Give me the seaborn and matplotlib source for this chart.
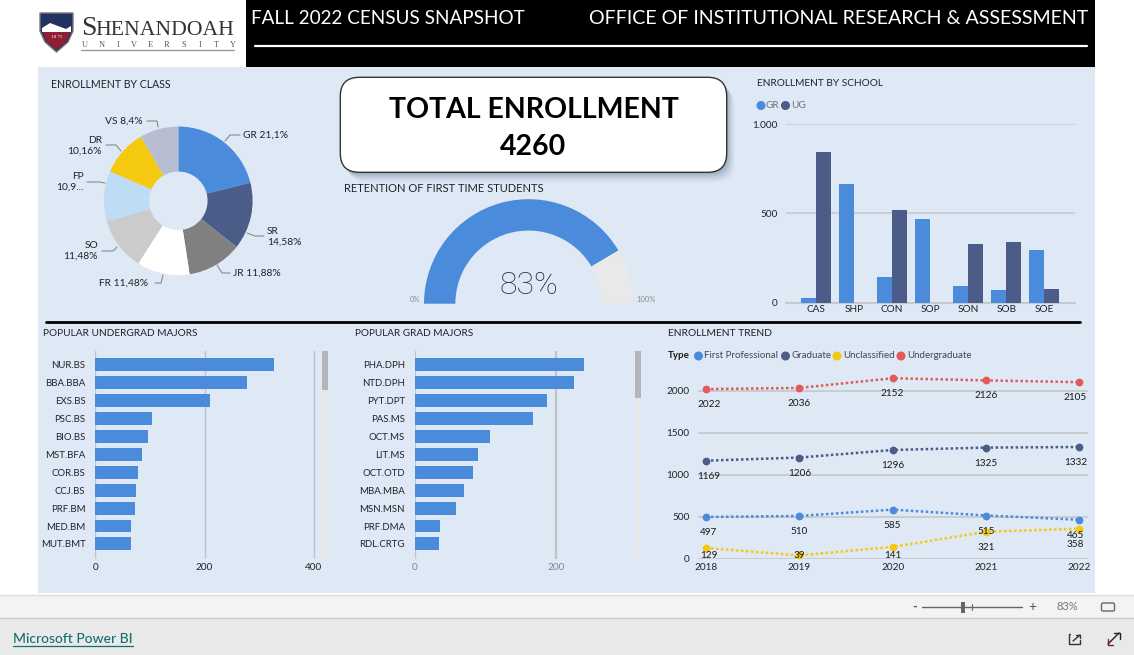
import matplotlib
matplotlib.use("Agg")
import matplotlib.pyplot as plt
import seaborn as sns
import pandas as pd
from matplotlib.patches import FancyBboxPatch, Rectangle, Circle, Polygon

# ---------- data ----------
class_names = ["GR", "SR", "JR", "FR", "SO", "FP", "DR", "VS"]
class_values = [21.1, 14.58, 11.88, 11.48, 11.48, 10.92, 10.16, 8.4]
class_colors = ["#4A8BDB", "#4C5C88", "#808080", "#FFFFFF", "#CBCBCB", "#BEDCF5", "#F4C90F", "#B7BED2"]
class_labels = ["GR 21,1%", "SR\n14,58%", "JR 11,88%", "FR 11,48%", "SO\n11,48%", "FP\n10,9...", "DR\n10,16%", "VS 8,4%"]

retention_pct = 83
total_enrollment = 4260

schools = ["CAS", "SHP", "CON", "SOP", "SON", "SOB", "SOE"]
school_gr = [26, 664, 144, 466, 91, 71, 295]
school_ug = [843, 0, 517, 0, 328, 338, 76]

ug_majors = ["NUR.BS", "BBA.BBA", "EXS.BS", "PSC.BS", "BIO.BS", "MST.BFA", "COR.BS", "CCJ.BS", "PRF.BM", "MED.BM", "MUT.BMT"]
ug_counts = [327, 277, 210, 103, 96, 85, 78, 74, 73, 66, 65]
gr_majors = ["PHA.DPH", "NTD.DPH", "PYT.DPT", "PAS.MS", "OCT.MS", "LIT.MS", "OCT.OTD", "MBA.MBA", "MSN.MSN", "PRF.DMA", "RDL.CRTG"]
gr_counts = [240, 225, 187, 167, 107, 90, 82, 69, 58, 36, 34]

years = [2018, 2019, 2020, 2021, 2022]
first_prof = [497, 510, 585, 515, 465]
graduate = [1169, 1206, 1296, 1325, 1332]
unclassified = [129, 39, 141, 321, 358]
undergraduate = [2022, 2036, 2152, 2126, 2105]

# ---------- setup ----------
sns.set_theme(style="white")
FONT = "Lato"
plt.rcParams["font.family"] = [FONT, "DejaVu Sans"]
W, H = 1134, 655
BLUE, NAVY, YEL, RED = "#4A8BDB", "#4C5C88", "#F4C90F", "#E25A5A"
PANEL = "#DEE9F5"
GRID = "#C6CACF"
INK = "#20232A"

fig = plt.figure(figsize=(W / 100, H / 100), dpi=100, facecolor="white")

def px_axes(x0, y0, x1, y1, z=2):
    ax = fig.add_axes([x0 / W, 1 - y1 / H, (x1 - x0) / W, (y1 - y0) / H], zorder=z)
    ax.patch.set_alpha(0)
    return ax

bg = px_axes(0, 0, W, H, 0)
bg.set_xlim(0, W); bg.set_ylim(H, 0); bg.axis("off")
ov = px_axes(0, 0, W, H, 5)
ov.set_xlim(0, W); ov.set_ylim(H, 0); ov.axis("off")

def T(x, y, s, size=8, color=INK, ha="left", va="center", **kw):
    return ov.text(x, y, s, fontsize=size, color=color, ha=ha, va=va, **kw)

def R(ax, x0, y0, x1, y1, c, **kw):
    ax.add_patch(Rectangle((x0, y0), x1 - x0, y1 - y0, facecolor=c, edgecolor="none", **kw))

# page regions
R(bg, 38, 67, 1095, 593, PANEL)
R(bg, 246, 0, 1095, 67, "black")
R(bg, 0, 595, W, 618, "#F3F3F3")
R(bg, 0, 618, W, H, "#E9E9E9")
bg.plot([0, W], [594.5, 594.5], color="#DDDDDD", lw=1)
bg.plot([0, W], [618, 618], color="#C8C8C8", lw=1)
bg.plot([46, 1080], [321.5, 321.5], color="black", lw=2)

# header
T(251, 18.5, "FALL 2022 CENSUS SNAPSHOT", 13.6, "white")
T(589, 18.5, "OFFICE OF INSTITUTIONAL RESEARCH & ASSESSMENT", 14.1, "white")
ov.plot([255, 1087], [46, 46], color="white", lw=1.6)

# logo
ov.add_patch(Polygon([(40, 13), (73, 13), (73, 31), (68, 42), (56.5, 52), (45, 42), (40, 31)],
                     closed=True, facecolor="#22335F", edgecolor="#777777", lw=1))
ov.add_patch(Polygon([(42, 28), (50, 23), (58, 26), (66, 29), (71, 26), (71, 32), (42, 32)],
                     closed=True, facecolor="white", edgecolor="none"))
ov.add_patch(Polygon([(43, 32), (70, 32), (67, 41), (56.5, 50), (46, 41)],
                     closed=True, facecolor="#8E1F35", edgecolor="none"))
T(56.5, 37, "18 75", 3.6, "white", ha="center", family="Liberation Serif")
T(81, 35, "S", 20, "#333333", va="baseline", family="Liberation Serif")
T(95, 35, "HENANDOAH", 15.6, "#333333", va="baseline", family="Liberation Serif")
for i, ch in enumerate("UNIVERSITY"):
    T(85 + i * 16.4, 47, ch, 6, "#555555", ha="center", va="baseline", family="Liberation Serif")
ov.plot([81, 234], [50, 50], color="#999999", lw=1)

# ---------- panel titles ----------
T(51, 84, "ENROLLMENT BY CLASS", 7.6)
T(344, 189, "RETENTION OF FIRST TIME STUDENTS", 8)
T(757, 84, "ENROLLMENT BY SCHOOL", 7.3)
T(43, 334, "POPULAR UNDERGRAD MAJORS", 7.3)
T(355, 334, "POPULAR GRAD MAJORS", 7.2)
T(668, 334, "ENROLLMENT TREND", 7.4)

# ---------- donut ----------
cx, cy, r = 178.3, 200.8, 74.3
pie_ax = px_axes(cx - r, cy - r, cx + r, cy + r)
pie_ax.pie(class_values, colors=class_colors, startangle=90, counterclock=False,
           radius=1, wedgeprops=dict(width=0.606, linewidth=0))
pie_ax.set_xlim(-1, 1); pie_ax.set_ylim(-1, 1)

leaders = [[(225, 141), (230, 135), (240, 135)], [(247, 233), (255, 236), (264, 236)],
           [(217, 265), (222, 273), (230, 273)], [(163, 275), (161, 283), (155, 283)],
           [(117, 247), (113, 251), (102, 251)], [(105, 183), (100, 182), (87, 182)],
           [(121, 151), (116, 145), (106, 145)], [(158, 127), (157, 121), (147, 121)]]
label_pos = [(243, 135, "left"), (267, 237, "left"), (233, 273, "left"), (148, 283, "right"),
             (98, 251, "right"), (84, 182, "right"), (102, 146, "right"), (143, 121, "right")]
for pts, (lx, ly, ha), s in zip(leaders, label_pos, class_labels):
    ov.plot(*zip(*pts), color="#8A8A8A", lw=0.8)
    T(lx, ly, s, 7.4, ha=ha, linespacing=1.25)

# ---------- card ----------
for d, a in ((10, .05), (8, .08), (6, .10), (4, .14), (2, .18)):
    bg.add_patch(FancyBboxPatch((340.3 + d * 0.8, 77.3 + d), 386.4, 95, boxstyle="round,pad=0,rounding_size=19",
                                facecolor="#5A6E8C", edgecolor="none", alpha=a))
ov.add_patch(FancyBboxPatch((340.3, 77.3), 386.4, 95, boxstyle="round,pad=0,rounding_size=19",
                            facecolor="white", edgecolor="#333333", lw=1))
T(533.5, 110, "TOTAL ENROLLMENT", 20.5, "black", ha="center", fontweight="bold")
T(533.5, 147, str(total_enrollment), 20.5, "black", ha="center", fontweight="bold")

# ---------- gauge ----------
gx, gy, gr = 528.5, 303.7, 104.5
g_ax = px_axes(gx - gr, gy - gr, gx + gr, gy + gr)
g_ax.pie([retention_pct, 100 - retention_pct, 100], colors=[BLUE, "#E9E9E9", "none"],
         startangle=180, counterclock=False, radius=1, wedgeprops=dict(width=0.3, linewidth=0))
g_ax.set_xlim(-1, 1); g_ax.set_ylim(-1, 1)
T(528.5, 286, f"{retention_pct}%", 23, "#2B3038", ha="center", family="Roboto", fontweight="light")
T(415, 300, "0%", 5.5, "#8F8F8F", ha="center")
T(646, 300, "100%", 5.5, "#8F8F8F", ha="center")

# ---------- school bars ----------
sch_ax = px_axes(786, 124, 1075, 302.7)
sch_df = pd.DataFrame({"School": schools * 2, "Count": school_gr + school_ug,
                       "Level": ["GR"] * 7 + ["UG"] * 7})
sns.barplot(data=sch_df, x="School", y="Count", hue="Level", palette=[BLUE, NAVY], saturation=1,
            width=0.79, gap=0, legend=False, ax=sch_ax, zorder=3, linewidth=0)
sch_ax.set_xlim(-0.79, 6.81); sch_ax.set_ylim(0, 1000)
sch_ax.set_yticks([0, 500, 1000]); sch_ax.set_yticklabels(["0", "500", "1.000"])
sch_ax.set_xlabel(""); sch_ax.set_ylabel("")
sch_ax.grid(axis="y", color=GRID, lw=1.2); sch_ax.set_axisbelow(True)
sch_ax.tick_params(axis="y", length=0, labelsize=7.2, colors=INK, pad=6)
sch_ax.tick_params(axis="x", length=0, labelsize=7.2, colors=INK, pad=2)
for s in sch_ax.spines.values():
    s.set_visible(False)
sch_ax.plot([-0.79, 6.81], [0, 0], color="#C6CACF", lw=1.6, zorder=2, clip_on=False)
ov.add_patch(Circle((761, 105.5), 3.8, color=BLUE))
T(766, 105.5, "GR", 7.2, "#6F7480")
ov.add_patch(Circle((785.5, 105.5), 3.8, color=NAVY))
T(791, 105.5, "UG", 7.2, "#6F7480")

# ---------- major bars ----------
def major_chart(box, names, counts, xmax, ticks, tick_color, grid_lw):
    ax = px_axes(*box)
    sns.barplot(x=counts, y=names, color=BLUE, saturation=1, width=0.72, ax=ax, zorder=3, linewidth=0)
    ax.set_xlim(0, xmax); ax.set_ylim(10.84, -0.78)
    ax.set_xticks(ticks)
    ax.grid(axis="x", color="#BFC3C8", lw=grid_lw); ax.set_axisbelow(True)
    ax.tick_params(axis="y", length=0, labelsize=6.9, labelcolor=INK, pad=7)
    ax.tick_params(axis="x", length=0, labelsize=7.2, labelcolor=tick_color, pad=3)
    for s in ax.spines.values():
        s.set_visible(False)
    return ax

major_chart((95.3, 350.7, 321, 559), ug_majors, ug_counts, 413, [0, 200, 400], INK, 1.0)
major_chart((414.7, 350.7, 634, 559), gr_majors, gr_counts, 310, [0, 200], "#808890", 1.6)
R(ov, 321.7, 350.7, 328.3, 559, "#E7E7E7")
R(ov, 321.7, 351, 328.3, 390, "#B5B5B8")
R(ov, 634.7, 350.7, 641.3, 559, "#E7E7E7")
R(ov, 634.7, 351, 641.3, 398, "#B5B5B8")

# ---------- trend ----------
tr_ax = px_axes(697.7, 370, 1087.7, 558.7)
type_names = ["First Professional", "Graduate", "Unclassified", "Undergraduate"]
type_colors = [BLUE, NAVY, YEL, RED]
series = [first_prof, graduate, unclassified, undergraduate]
tr_df = pd.DataFrame({"Year": years * 4, "Count": sum(series, []),
                      "Type": [t for t in type_names for _ in years]})
sns.lineplot(data=tr_df, x="Year", y="Count", hue="Type", hue_order=type_names, palette=type_colors,
             marker="o", markersize=5.6, markeredgewidth=0, linewidth=1.8, dashes=False, legend=False,
             ax=tr_ax, zorder=4, clip_on=False)
for line in tr_ax.get_lines():
    line.set_linestyle((0, (1, 1)))
tr_ax.set_xlim(2018 - 0.089, 2022 + 0.09); tr_ax.set_ylim(0, 2250)
tr_ax.set_xticks(years); tr_ax.set_yticks([0, 500, 1000, 1500, 2000])
tr_ax.set_xlabel(""); tr_ax.set_ylabel("")
tr_ax.grid(axis="y", color=GRID, lw=1.3); tr_ax.set_axisbelow(True)
tr_ax.tick_params(length=0, labelsize=7.2, labelcolor=INK, pad=3)
tr_ax.tick_params(axis="y", pad=6)
for s in tr_ax.spines.values():
    s.set_visible(False)
drops = {"Unclassified": [7.4, 0, 8.4, 15.5, 15.6]}
nudges = [3, 0, 0, 0, -4]
for name, vals in zip(type_names, series):
    for yr, v, d, n in zip(years, vals, drops.get(name, [15.5] * 5), nudges):
        tr_ax.annotate(str(v), (yr, v), xytext=(n * 0.72, -d * 0.72), textcoords="offset points",
                       ha="center", va="center", fontsize=7.2, color="#1A1A1A", zorder=6,
                       annotation_clip=False)

T(668, 356, "Type", 7, "#1A1A1A", fontweight="bold")
for lx, tx, name, col in zip([698.5, 785.5, 837, 901], [704, 791, 843, 907], type_names, type_colors):
    ov.add_patch(Circle((lx, 356), 3.8, color=col))
    T(tx, 356, name, 7, "#3F4654")

# ---------- toolbar / footer ----------
T(915, 607, "-", 9, "#555555", ha="center", fontweight="bold")
ov.plot([922, 1022], [607, 607], color="#666666", lw=1)
R(ov, 961, 602, 965, 613, "#666666")
ov.plot([972, 972], [604, 610], color="#666666", lw=0.8)
T(1032, 606.5, "+", 10, "#555555", ha="center")
T(1067, 607, "83%", 8, "#777777", ha="center")
ov.add_patch(FancyBboxPatch((1101.5, 603), 13, 8, boxstyle="round,pad=0,rounding_size=1.5",
                            facecolor="none", edgecolor="#666666", lw=1))
T(13, 639, "Microsoft Power BI", 10, "#126E71", fontweight="medium")
ov.plot([13, 133], [646, 646], color="#126E71", lw=0.9)
ov.plot([1070, 1069, 1069, 1080, 1080], [634, 634, 644, 644, 640], color="#333333", lw=1)
ov.plot([1073, 1080], [641, 635], color="#333333", lw=1)
ov.plot([1076, 1080, 1080], [634.5, 634.5, 638], color="#333333", lw=1)
ov.plot([1108, 1119], [644, 633], color="#222222", lw=1)
ov.plot([1114, 1120, 1120], [633, 633, 639], color="#222222", lw=1)
ov.plot([1108, 1108, 1113], [639, 645, 645], color="#7A1F3A", lw=1)

fig.savefig("out.png", dpi=100, facecolor="white")
